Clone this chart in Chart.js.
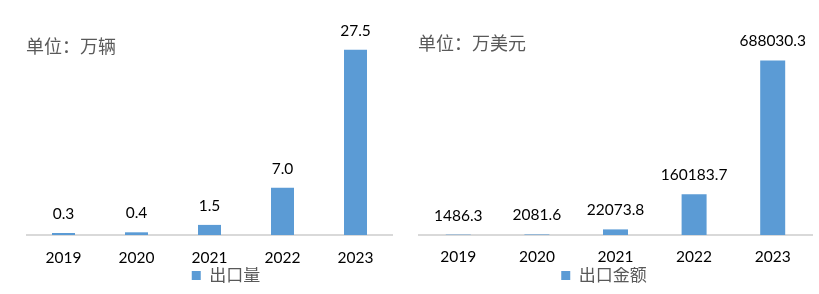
<!DOCTYPE html>
<html>
<head>
<meta charset="utf-8">
<script src="https://cdn.jsdelivr.net/npm/chart.js@4/dist/chart.umd.min.js"></script>
<style>
  body { margin: 0; background: #fff; }
  #wrap { position: relative; width: 819px; height: 294px; overflow: hidden; }
  canvas { position: absolute; top: 0; }
  .unit { position: absolute; font-family: "Noto Sans CJK SC", sans-serif; font-size: 18px; line-height: 1; color: #595959; white-space: nowrap; }
</style>
</head>
<body>
<div id="wrap">
  <canvas id="chartVolume" width="452" height="294" style="left:0px"></canvas>
  <canvas id="chartValue" width="430" height="294" style="left:389px"></canvas>
  <div class="unit" style="left:26px; top:36px;">单位：万辆</div>
  <div class="unit" style="left:418px; top:33px;">单位：万美元</div>
</div>
<script>
let years = ['2019', '2020', '2021', '2022', '2023'];
let exportVolume = [0.3, 0.4, 1.5, 7.0, 27.5];              // 万辆
let exportValue = [1486.3, 2081.6, 22073.8, 160183.7, 688030.3]; // 万美元

let barColor = '#5B9BD5';
let fontFamily = "Lato, 'Noto Sans CJK SC', sans-serif";

// draws the value above each bar
let valueLabels = {
    id: 'valueLabels',
    afterDatasetsDraw(chart) {
        let ctx = chart.ctx;
        let meta = chart.getDatasetMeta(0);
        let data = chart.data.datasets[0].data;
        ctx.save();
        ctx.font = '15.5px ' + fontFamily;
        ctx.fillStyle = '#000';
        ctx.textAlign = 'center';
        ctx.textBaseline = 'middle';
        meta.data.forEach(function (bar, i) {
            ctx.fillText(data[i].toFixed(1), bar.x, bar.y - 19);
        });
        ctx.restore();
    }
};

// legend in the original sits a bit off the plot centre
let legendShift = {
    id: 'legendShift',
    afterLayout(chart, args, opts) {
        chart.legend.left += opts.dx;
        chart.legend.right += opts.dx;
    }
};

function makeChart(id, label, values, yMax, padding, barPct, tickPad, dx) {
    let ctx = document.getElementById(id).getContext('2d');
    return new Chart(ctx, {
        type: 'bar',
        data: {
            labels: years,
            datasets: [{
                label: label,
                data: values,
                backgroundColor: barColor,
                borderWidth: 0,
                barPercentage: barPct,
                categoryPercentage: 1
            }]
        },
        options: {
            responsive: false,
            animation: false,
            layout: { padding: padding },
            scales: {
                x: {
                    grid: { display: false, drawTicks: false },
                    border: { display: true, color: '#D9D9D9', width: 2 },
                    ticks: { color: '#000', padding: tickPad, font: { family: fontFamily, size: 15.5 } },
                    afterFit: function (scale) { scale.height = 32; }
                },
                y: {
                    display: false,
                    min: 0,
                    max: yMax
                }
            },
            plugins: {
                legend: {
                    position: 'bottom',
                    labels: {
                        boxWidth: 9,
                        boxHeight: 9,
                        padding: 0,
                        color: '#595959',
                        font: { family: fontFamily, size: 17 }
                    }
                },
                legendShift: { dx: dx },
                tooltip: { enabled: false }
            }
        },
        plugins: [valueLabels, legendShift]
    });
}

makeChart('chartVolume', '出口量', exportVolume, 30,
    { left: 27, right: 60, top: 33, bottom: 0 }, 0.315, 14, 16.5);
makeChart('chartValue', '出口金额', exportValue, 800000,
    { left: 30, right: 7, top: 32, bottom: 0 }, 0.318, 13, -11.5);
</script>
</body>
</html>
